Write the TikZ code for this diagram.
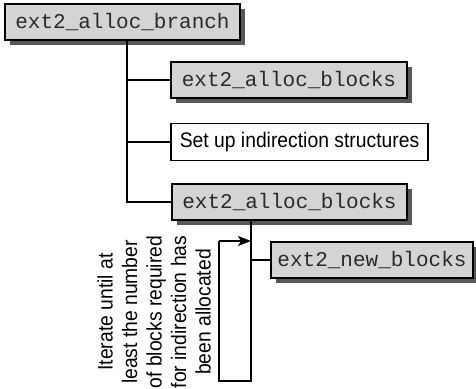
\documentclass[tikz,border=0pt]{standalone}
\usepackage{fontspec}
\newfontfamily\monofnt{Liberation Mono}
\newfontfamily\narrowfnt[FakeStretch=0.92]{Liberation Sans}
\usetikzlibrary{shadows,arrows.meta}
\definecolor{boxgrey}{HTML}{D4D4D4}
\definecolor{shadowgrey}{HTML}{585858}
\definecolor{textgrey}{HTML}{2A2A2A}
\tikzset{
  fnbox/.style={draw=black, line width=1.3pt, fill=boxgrey, inner sep=0pt,
    minimum height=36pt, text=textgrey, font=\monofnt\fontsize{21}{24}\selectfont,
    drop shadow={shadow xshift=5pt, shadow yshift=-5pt, fill=shadowgrey, opacity=1}},
  plainbox/.style={draw=black, line width=1.3pt, fill=white, inner sep=0pt,
    minimum height=37pt, font=\narrowfnt\fontsize{21}{24}\selectfont},
  conn/.style={line width=1.4pt, black},
}
\begin{document}
\begin{tikzpicture}[x=1pt,y=-1pt]
\useasboundingbox (0,0) rectangle (476,388);
\node[fnbox, minimum width=235pt] (b1) at (122.5,22) {ext2\_alloc\_branch};
\node[fnbox, minimum width=236pt] (b2) at (289,80) {ext2\_alloc\_blocks};
\node[plainbox, minimum width=257pt] (b3) at (299.5,142) {Set up indirection structures};
\node[fnbox, minimum width=235pt] (b4) at (289.5,202) {ext2\_alloc\_blocks};
\node[fnbox, minimum width=202pt] (b5) at (372,260) {ext2\_new\_blocks};
\coordinate (t1) at (127,40);
\coordinate (j2) at (127,80);
\coordinate (j3) at (127,142);
\coordinate (j4) at (127,202);
\coordinate (t4) at (251,220);
\coordinate (j5) at (251,260);
\coordinate (br) at (251,381);
\coordinate (bl) at (219,381);
\coordinate (tl) at (219,241);
\coordinate (ah) at (251,241);
\draw[conn] (t1) -- (j4) -- (b4.west);
\draw[conn] (j2) -- (b2.west);
\draw[conn] (j3) -- (b3.west);
\draw[conn] (t4) -- (br) -- (bl) -- (tl);
\draw[conn, -{Stealth[length=13pt,width=10pt,inset=3pt]}] (tl) -- (ah);
\draw[conn] (j5) -- (b5.west);
\node[rotate=90, align=center, inner sep=0pt, font=\narrowfnt\fontsize{21}{24.5}\selectfont] (note) at (154,312)
  {Iterate until at\\least the number\\of blocks required\\for indirection has\\been allocated};
\end{tikzpicture}
\end{document}
